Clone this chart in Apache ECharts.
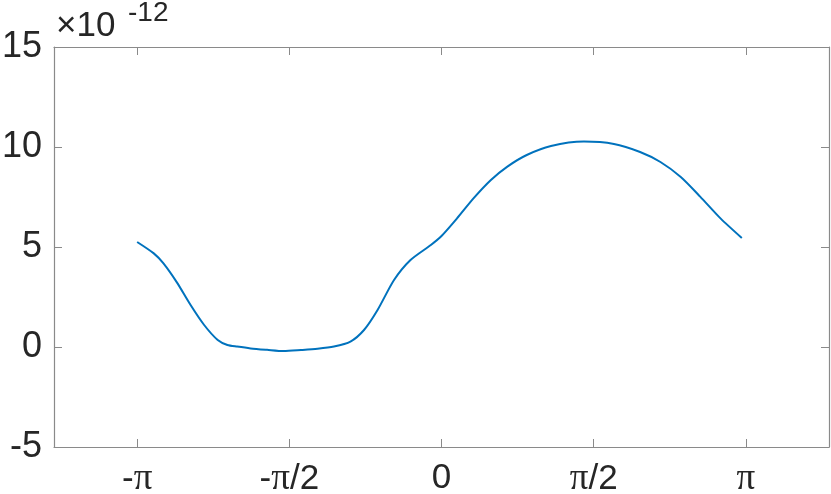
<!DOCTYPE html>
<html>
<head>
<meta charset="utf-8">
<script src="https://cdn.jsdelivr.net/npm/echarts@6/dist/echarts.min.js"></script>
<style>
  html, body { margin: 0; padding: 0; background: #fff; }
  #chart { width: 831px; height: 494px; }
</style>
</head>
<body>
<div id="chart"></div>
<script>
// values, y in units of 1e-12
const xValues = [-3.1416, -2.97, -2.87, -2.73, -2.59, -2.45, -2.31, -2.21, -2.11, -1.97,
  -1.80, -1.63, -1.45, -1.28, -1.11, -0.94, -0.80, -0.66, -0.49, -0.32,
  -0.11, 0.0, 0.16, 0.33, 0.51, 0.68, 0.88, 1.13, 1.47, 1.78,
  2.05, 2.26, 2.47, 2.67, 2.88, 3.10];
const yValues = [5.25, 4.68, 4.18, 3.22, 2.1, 1.1, 0.35, 0.1, 0.02, -0.07,
  -0.14, -0.2, -0.15, -0.09, 0.02, 0.27, 0.85, 1.85, 3.35, 4.35,
  5.1, 5.55, 6.43, 7.43, 8.35, 9.02, 9.6, 10.05, 10.27, 10.15,
  9.75, 9.25, 8.5, 7.52, 6.43, 5.45];

const xTickValues = [-Math.PI, -Math.PI / 2, 0, Math.PI / 2, Math.PI];
const xTickLabels = ['-π', '-π/2', '0', 'π/2', 'π'];
const yTickLabels = ['-5', '0', '5', '10', '15'];

const textColor = '#262626';
const axisColor = '#8a8a8a';

const chart = echarts.init(document.getElementById('chart'));

function xLabel(value) {
  let best = 0;
  xTickValues.forEach((v, i) => {
    if (Math.abs(v - value) < Math.abs(xTickValues[best] - value)) best = i;
  });
  // put pi in a serif face like the original
  return xTickLabels[best].replace('π', '{p|π}');
}

const tickStyle = { show: true, inside: true, length: 8, lineStyle: { color: axisColor, width: 1 } };
const lineStyle = { show: true, onZero: false, lineStyle: { color: axisColor, width: 1.2 } };

chart.setOption({
  animation: false,
  grid: {
    left: 54, right: 2, top: 47, bottom: 47,
    containLabel: false,
    outerBoundsMode: 'none'
  },
  xAxis: [
    {
      type: 'value', min: -4, max: 4, position: 'bottom',
      axisLine: lineStyle,
      axisTick: Object.assign({ customValues: xTickValues }, tickStyle),
      splitLine: { show: false },
      axisLabel: {
        customValues: xTickValues,
        formatter: xLabel,
        color: textColor,
        fontFamily: 'Liberation Sans',
        fontSize: 35,
        margin: 14,
        rich: {
          p: { fontFamily: 'Liberation Serif', fontSize: 37, color: textColor }
        }
      }
    },
    {
      type: 'value', min: -4, max: 4, position: 'top',
      axisLine: lineStyle,
      axisTick: Object.assign({ customValues: xTickValues }, tickStyle),
      axisLabel: { show: false },
      splitLine: { show: false }
    }
  ],
  yAxis: [
    {
      type: 'value', min: -5, max: 15, interval: 5, position: 'left',
      axisLine: lineStyle,
      axisTick: tickStyle,
      splitLine: { show: false },
      axisLabel: {
        formatter: (v) => yTickLabels[Math.round((v + 5) / 5)],
        color: textColor,
        fontFamily: 'Liberation Sans',
        fontSize: 36,
        margin: 12
      }
    },
    {
      type: 'value', min: -5, max: 15, interval: 5, position: 'right',
      axisLine: lineStyle,
      axisTick: tickStyle,
      axisLabel: { show: false },
      splitLine: { show: false }
    }
  ],
  graphic: [
    {
      type: 'text', left: 56, top: 9,
      style: { text: '×10', fill: textColor, font: '35px "Liberation Sans"' }
    },
    {
      type: 'text', left: 128, top: -1,
      style: { text: '-12', fill: textColor, font: '28px "Liberation Sans"' }
    }
  ],
  series: [{
    type: 'line',
    data: xValues.map((x, i) => [x, yValues[i]]),
    smooth: 0.25,
    showSymbol: false,
    lineStyle: { color: '#0072BD', width: 2 },
    itemStyle: { color: '#0072BD' }
  }]
});
</script>
</body>
</html>
